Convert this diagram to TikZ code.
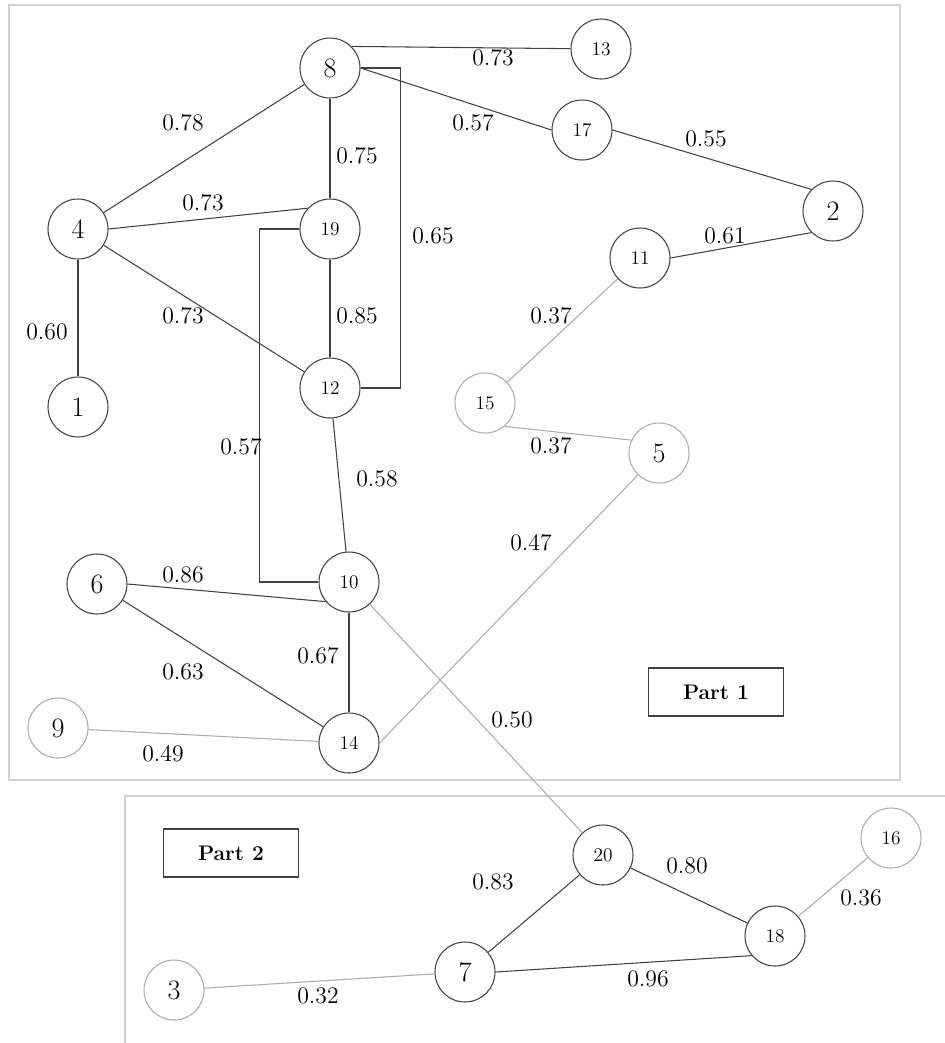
\documentclass[tikz,border=0pt]{standalone}
\usepackage{tikz}
\usetikzlibrary{positioning,calc}

\definecolor{edgedark}{HTML}{404040}
\definecolor{edgelight}{HTML}{ABABAB}
\definecolor{framegray}{HTML}{D2D2D2}

\begin{document}
\begin{tikzpicture}[x=0.2mm, y=-0.2mm,
    vtx/.style={circle, draw=edgedark, line width=0.6pt, minimum size=12mm, inner sep=0pt},
    weak/.style={vtx, draw=edgelight},
    big/.style={font=\fontsize{16}{16}\selectfont},
    small/.style={font=\fontsize{11}{11}\selectfont},
    wt/.style={font=\fontsize{13.5}{13.5}\selectfont, inner sep=1pt},
    strong/.style={draw=edgedark, line width=0.6pt},
    faint/.style={draw=edgelight, line width=0.6pt},
    partbox/.style={draw=edgedark, line width=0.6pt, minimum width=27mm, minimum height=9.6mm,
        font=\bfseries\fontsize{12}{12}\selectfont}]

    \useasboundingbox (0,0) rectangle (945,1043);

    % Frames of the two parts
    \draw[framegray, line width=1pt] (9,5) rectangle (900,780);
    \draw[framegray, line width=1pt] (945,796) -- (125,796) -- (125,1043);

    \node[partbox] (part1) at (716,692) {Part 1};
    \node[partbox] (part2) at (231,853) {Part 2};

    % Part 1 vertices
    \node[vtx, big] (n8) at (330,68) {8};
    \node[vtx, small] (n13) at (601,49) {13};
    \node[vtx, small] (n17) at (582,130) {17};
    \node[vtx, big] (n2) at (833,211) {2};
    \node[vtx, big] (n4) at (78,229) {4};
    \node[vtx, small] (n19) at (330,229) {19};
    \node[vtx, small] (n11) at (640,258) {11};
    \node[vtx, big] (n1) at (78,407) {1};
    \node[vtx, small] (n12) at (330,388) {12};
    \node[weak, small] (n15) at (485,403) {15};
    \node[weak, big] (n5) at (659,453) {5};
    \node[vtx, big] (n6) at (97,584) {6};
    \node[vtx, small] (n10) at (349,582) {10};
    \node[weak, big] (n9) at (58,728) {9};
    \node[vtx, small] (n14) at (349,743) {14};

    % Part 2 vertices
    \node[vtx, small] (n20) at (603,855) {20};
    \node[weak, small] (n16) at (891,838) {16};
    \node[vtx, small] (n18) at (775,936) {18};
    \node[weak, big] (n3) at (174,990) {3};
    \node[vtx, big] (n7) at (465,972) {7};

    % Strong links
    \draw[strong] (n8.45) -- (n13);
    \draw[strong] (n8.east) -- (n17.west);
    \draw[strong] (n17.east) -- (n2.135);
    \draw[strong] (n4) -- (n8);
    \draw[strong] (n8) -- (n19);
    \draw[strong] (n4.east) -- (n19.137);
    \draw[strong] (n2.225) -- (n11.east);
    \draw[strong] (n4) -- (n12);
    \draw[strong] (n19) -- (n12);
    \draw[strong] (n4) -- (n1);
    \draw[strong] (n8.east) -- ++(40,0) |- (n12.east);
    \draw[strong] (n19.west) -- ++(-40,0) |- (n10.west);
    \draw[strong] (n12) -- (n10);
    \draw[strong] (n6.east) -- (n10.220);
    \draw[strong] (n10) -- (n14);
    \draw[strong] (n6) -- (n14);
    \draw[strong] (n20) -- (n7);
    \draw[strong] (n20) -- (n18);
    \draw[strong] (n7.east) -- (n18.220);

    % Weak links
    \draw[faint] (n11) -- (n15);
    \draw[faint] (n15.-50) -- (n5.155);
    \draw[faint] (n5) -- (n14.east);
    \draw[faint] (n9) -- (n14);
    \draw[faint] (n10) -- (n20);
    \draw[faint] (n18) -- (n16);
    \draw[faint] (n3) -- (n7);

    % Weights
    \node[wt] (w8-13) at (493,58) {0.73};
    \node[wt] (w8-17) at (473,123) {0.57};
    \node[wt] (w17-2) at (706,139) {0.55};
    \node[wt] (w4-8) at (183,123) {0.78};
    \node[wt] (w8-19) at (357,156) {0.75};
    \node[wt] (w4-19) at (203,203) {0.73};
    \node[wt] (w8-12) at (433,236) {0.65};
    \node[wt] (w2-11) at (725,236) {0.61};
    \node[wt] (w4-12) at (183,316) {0.73};
    \node[wt] (w19-12) at (357,316) {0.85};
    \node[wt] (w4-1) at (47,332) {0.60};
    \node[wt] (w11-15) at (551,316) {0.37};
    \node[wt] (w19-10) at (241,447) {0.57};
    \node[wt] (w15-5) at (551,446) {0.37};
    \node[wt] (w12-10) at (377,479) {0.58};
    \node[wt] (w5-14) at (531,543) {0.47};
    \node[wt] (w6-10) at (183,575) {0.86};
    \node[wt] (w10-14) at (318,656) {0.67};
    \node[wt] (w6-14) at (183,672) {0.63};
    \node[wt] (w10-20) at (512,720) {0.50};
    \node[wt] (w9-14) at (163,754) {0.49};
    \node[wt] (w20-7) at (493,882) {0.83};
    \node[wt] (w20-18) at (687,866) {0.80};
    \node[wt] (w18-16) at (861,898) {0.36};
    \node[wt] (w7-18) at (648,979) {0.96};
    \node[wt] (w3-7) at (318,996) {0.32};
\end{tikzpicture}
\end{document}
